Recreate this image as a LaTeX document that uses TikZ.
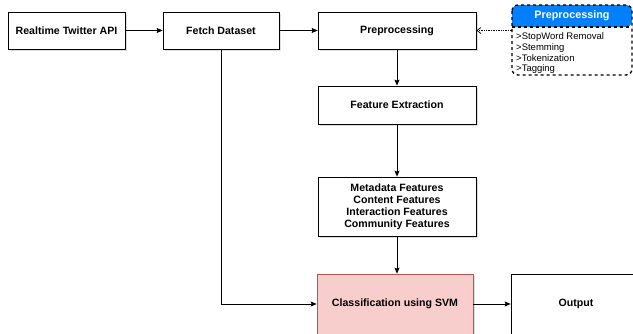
\documentclass[tikz,border=0pt]{standalone}
\usepackage{fontspec}
\setmainfont{Liberation Sans}
\usetikzlibrary{shadows, arrows.meta}

\definecolor{noteblue}{RGB}{0,127,255}
\definecolor{svmfill}{RGB}{248,206,204}
\definecolor{svmline}{RGB}{184,84,80}

\tikzset{
  blk/.style={draw, fill=white, align=center, inner sep=2pt, line width=0.7pt,
    font=\bfseries\fontsize{10.6}{12}\selectfont,
    drop shadow={shadow xshift=1.5pt, shadow yshift=-1.5pt, opacity=0.25}},
  arr/.style={-{Stealth[length=6pt, width=5pt, inset=1pt]}, line width=0.7pt}
}

\begin{document}
\begin{tikzpicture}[x=1pt, y=-1pt]
			\useasboundingbox (0,0) rectangle (633,333);
			
			% Top row
			\node[blk, minimum width=117pt, minimum height=37pt] (api) at (66.5,30.5) {Realtime Twitter API};
			\node[blk, minimum width=116pt, minimum height=37pt] (fetch) at (221,30.5) {Fetch Dataset};
			\node[blk, minimum width=158pt, minimum height=37pt] (prep) at (397,30.5) {Preprocessing};
			
			% Middle column
			\node[blk, minimum width=158pt, minimum height=38pt] (feat) at (397,105) {Feature Extraction};
			\node[blk, minimum width=158pt, minimum height=59pt] (feats) at (397,206.5)
				{Metadata Features\\Content Features\\Interaction Features\\Community Features};
			
			% Bottom row
			\node[blk, fill=svmfill, draw=svmline, minimum width=156pt, minimum height=60pt] (svm) at (395,304) {Classification using SVM};
			\node[blk, minimum width=130pt, minimum height=60pt] (out) at (576,304) {Output};
			
			% Preprocessing note
			\fill[noteblue] (512,27) [rounded corners=6pt] |- (572,5) -| (632,27) [sharp corners] -- cycle;
			\draw[line width=1.3pt, dashed, rounded corners=6pt] (512,5) rectangle (632,75);
			\draw[line width=1.3pt, dashed] (512,27) -- (632,27);
			\node[text=white, font=\bfseries\fontsize{10.8}{12}\selectfont] (notehead) at (572,16) {Preprocessing};
			\node[anchor=north west, align=left, inner sep=1pt, font=\fontsize{9.5}{10.8}\selectfont] (note) at (515,31.5)
				{>StopWord Removal\\>Stemming\\>Tokenization\\>Tagging};
			\coordinate (notew) at (512,30.5);
			
			% Connectors
			\draw[arr] (api) -- (fetch);
			\draw[arr] (fetch) -- (prep);
			\draw[-{Straight Barb[length=4pt, width=6pt]}, line width=0.7pt, densely dotted] (notew) -- (prep.east);
			\draw[arr] (prep) -- (feat);
			\draw[arr] (feat) -- (feats);
			\draw[arr] (feats.south) -- (feats.south |- svm.north);
			\draw[arr] (fetch.south) |- (svm.west);
			\draw[arr] (svm) -- (out);
			
		\end{tikzpicture}
\end{document}
